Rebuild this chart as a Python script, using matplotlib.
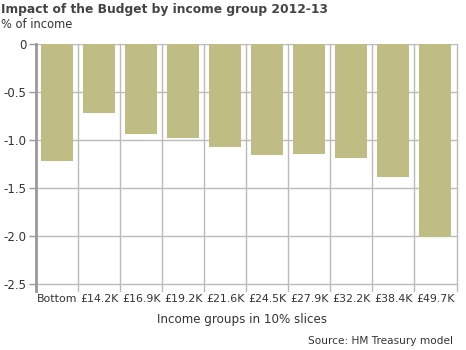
import matplotlib
matplotlib.use("Agg")
import matplotlib.pyplot as plt
import numpy as np

categories = ["Bottom", "£14.2K", "£16.9K", "£19.2K", "£21.6K", "£24.5K", "£27.9K", "£32.2K", "£38.4K", "£49.7K"]
values = [-1.22, -0.72, -0.94, -0.98, -1.07, -1.16, -1.14, -1.19, -1.38, -2.01]
yticks = [0, -0.5, -1.0, -1.5, -2.0, -2.5]
ytick_labels = ["0", "-0.5", "-1.0", "-1.5", "-2.0", "-2.5"]

W, H = 466, 350
fig = plt.figure(figsize=(W/100, H/100), dpi=100)
ax = fig.add_axes([36/W, 1-291/H, (456.5-36)/W, (291-44)/H])

x = np.arange(len(categories))
ax.bar(x, values, width=0.76, color="#bfbd84", zorder=3)
ax.set_xlim(-0.5, len(categories)-0.5)
ax.set_ylim(-2.57, 0)

ax.set_yticks(yticks)
ax.set_yticklabels(ytick_labels)
ax.set_xticks(x)
ax.set_xticklabels(categories)
for b in np.arange(0.5, len(categories)-0.5+0.01, 1.0):
    ax.axvline(b, color="#bbbbbb", lw=1, zorder=1, clip_on=False)
ax.yaxis.grid(True, color="#bbbbbb", lw=1, zorder=1)

for s in ["top", "right", "bottom"]:
    ax.spines[s].set_visible(False)
ax.spines["left"].set_color("#999999")
ax.spines["left"].set_linewidth(2)
ax.tick_params(axis="y", length=5, width=1, color="#999999", labelsize=8.5, labelcolor="#333333", pad=2)
ax.tick_params(axis="x", length=0, labelsize=7.9, labelcolor="#333333", pad=2)

fig.text(1/W, 1-10/H, "Impact of the Budget by income group 2012-13", fontsize=8.8, fontweight="bold", color="#444444", va="center", ha="left")
fig.text(1/W, 1-25/H, "% of income", fontsize=8.3, color="#333333", va="center", ha="left")
fig.text(242/W, 1-320/H, "Income groups in 10% slices", fontsize=8.6, color="#333333", va="center", ha="center")
fig.text(453/W, 1-341/H, "Source: HM Treasury model", fontsize=7.6, color="#333333", va="center", ha="right")

fig.savefig("out.png", dpi=100)
